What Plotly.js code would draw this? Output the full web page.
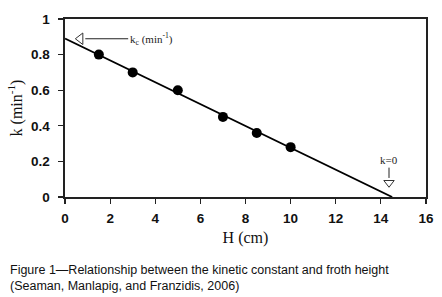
<!DOCTYPE html>
<html><head><meta charset="utf-8">
<script src="https://cdn.plot.ly/plotly-3.0.1.min.js"></script>
<style>html,body{margin:0;padding:0;background:#fff}#c{width:442px;height:297px}</style>
</head><body><div id="c"></div>
<script>
// Data
const H = [1.5, 3, 5, 7, 8.5, 10];
const K = [0.8, 0.7, 0.6, 0.45, 0.36, 0.28];
const fitH = [0, 14.5];
const fitK = [0.89, 0];
// annotation arrows: kc at intercept, k=0 at x-intercept
const kcHeadH = [0.68];
const kcHeadK = [0.889];
const kcShaftH = [0.9, 2.8];
const kcShaftK = [0.889, 0.889];
const k0HeadH = [14.36];
const k0HeadK = [0.08];
const k0ShaftH = [14.36, 14.36];
const k0ShaftK = [0.107, 0.165];
const xTicks = [0, 2, 4, 6, 8, 10, 12, 14, 16];
const yTicks = [0, 0.2, 0.4, 0.6, 0.8, 1];

const traces = [
  {x: fitH, y: fitK, mode: 'lines', line: {color: '#000', width: 1.8}, hoverinfo: 'skip'},
  {x: H, y: K, mode: 'markers', marker: {color: '#000', size: 10}},
  {x: kcShaftH, y: kcShaftK, mode: 'lines', line: {color: '#222', width: 1}},
  {x: kcHeadH, y: kcHeadK, mode: 'markers', marker: {symbol: 'triangle-left-open', size: 10, color: '#333', line: {width: 1}}},
  {x: k0ShaftH, y: k0ShaftK, mode: 'lines', line: {color: '#222', width: 1}},
  {x: k0HeadH, y: k0HeadK, mode: 'markers', marker: {symbol: 'triangle-down-open', size: 9, color: '#333', line: {width: 1}}}
];

const axisCommon = {
  showline: true, linecolor: '#222', linewidth: 1.6, mirror: true,
  showgrid: false, zeroline: false, ticks: 'outside', ticklen: 5, tickcolor: '#222', tickwidth: 1.2,
  tickfont: {family: 'Liberation Sans, Arial, sans-serif', size: 13.5, color: '#111', weight: 'bold'}
};

const layout = {
  width: 442, height: 297,
  margin: {l: 65, r: 16, t: 19, b: 100},
  paper_bgcolor: '#fff', plot_bgcolor: '#fff',
  showlegend: false,
  xaxis: Object.assign({}, axisCommon, {
    range: [0, 16], tickvals: xTicks, ticktext: xTicks.map(String), ticklabelstandoff: 3,
    title: {text: 'H (cm)', font: {family: 'Liberation Serif, Times New Roman, serif', size: 16, color: '#111'}, standoff: 7}
  }),
  yaxis: Object.assign({}, axisCommon, {
    range: [0, 1], tickvals: yTicks, ticktext: yTicks.map(String), ticklabelstandoff: 6,
    title: {text: 'k (min<sup>-1</sup>)', font: {family: 'Liberation Serif, Times New Roman, serif', size: 16, color: '#111'}, standoff: 4}
  }),
  annotations: [
    {x: kcShaftH[1], y: kcShaftK[1], xref: 'x', yref: 'y', xanchor: 'left', yanchor: 'middle', showarrow: false,
     text: 'k<sub>c</sub> (min<sup>-1</sup>)', font: {family: 'Liberation Serif, Times New Roman, serif', size: 11, color: '#222'}},
    {x: k0ShaftH[1], y: k0ShaftK[1], xref: 'x', yref: 'y', xanchor: 'center', yanchor: 'bottom', showarrow: false,
     text: 'k=0', font: {family: 'Liberation Serif, Times New Roman, serif', size: 11, color: '#222'}},
    {x: -0.158, y: -0.36, xref: 'paper', yref: 'paper', xanchor: 'left', yanchor: 'top', align: 'left', showarrow: false,
     text: 'Figure 1\u2014Relationship between the kinetic constant and froth height<br>(Seaman, Manlapig, and Franzidis, 2006)',
     font: {family: 'Liberation Sans, Arial, sans-serif', size: 12.5, color: '#111'}}
  ]
};

Plotly.newPlot('c', traces, layout, {staticPlot: true, displayModeBar: false});
</script></body></html>
